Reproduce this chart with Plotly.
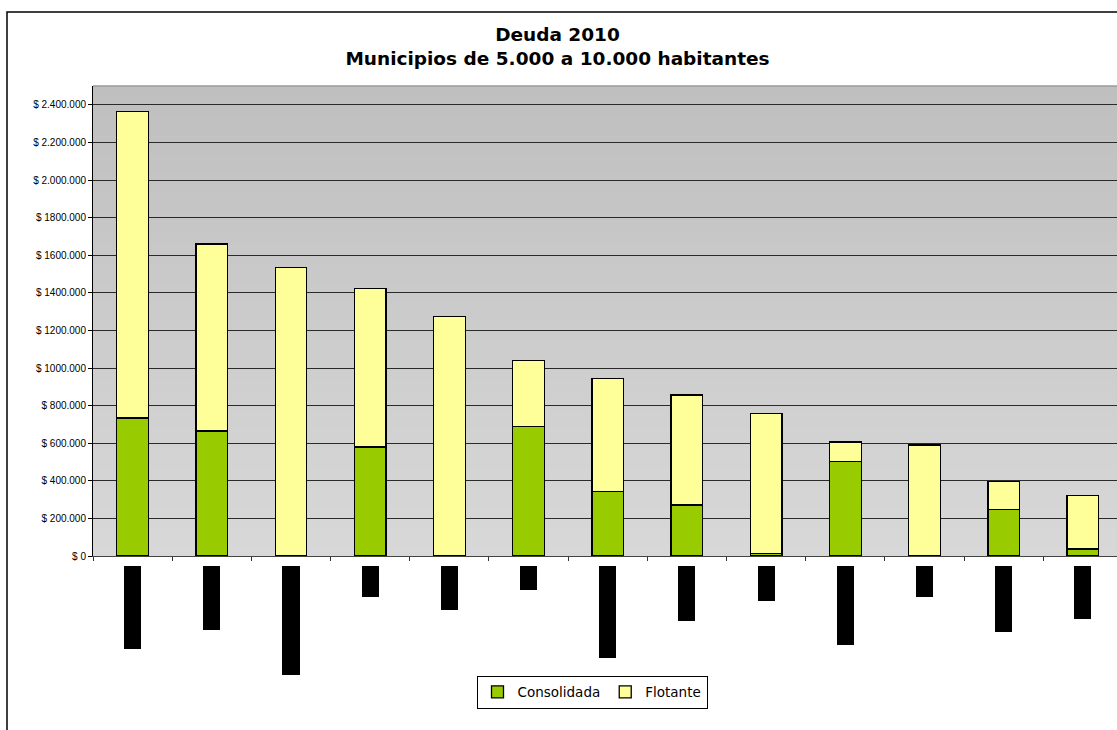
import plotly.graph_objects as go

# Municipios (nombres ocultos en el gráfico)
municipios = [f"Municipio {i}" for i in range(1, 14)]

# Deuda 2010 por tipo, en pesos (None = sin deuda consolidada)
consolidada = [734000, 665000, None, 580000, None, 689000, 343000, 272000, 12000, 504000, None, 247000, 37000]
flotante = [1632000, 994000, 1534000, 844000, 1275000, 351000, 602000, 584000, 746000, 103000, 590000, 151000, 285000]

# Largo de cada nombre tachado bajo el eje
largo_tachado = [83, 64, 109, 31, 44, 24, 92, 55, 35, 79, 31, 66, 53]

tick_vals = [0, 200000, 400000, 600000, 800000, 1000000, 1200000, 1400000,
             1600000, 1800000, 2000000, 2200000, 2400000]
tick_text = ["$ 0", "$ 200.000", "$ 400.000", "$ 600.000", "$ 800.000", "$ 1000.000",
             "$ 1200.000", "$ 1400.000", "$ 1600.000", "$ 1800.000", "$ 2.000.000",
             "$ 2.200.000", "$ 2.400.000"]

W, H = 1117, 730
M_L, M_R, M_T, M_B = 93, 0, 86, 40
plot_h = H - M_T - M_B


def py(pixel_y):
    """Pixel row -> paper y coordinate."""
    return (H - M_B - pixel_y) / plot_h


def px(pixel_x):
    return (pixel_x - M_L) / (W - M_L - M_R)


main_bottom = 556
y_dom = [py(main_bottom), 1.0]
y2_dom = [py(566 + 120), py(566)]

fig = go.Figure()
fig.add_trace(go.Bar(
    x=municipios, y=consolidada, name="Consolidada", width=0.4,
    marker=dict(color="#99cc00", line=dict(color="#000000", width=1.3)),
    xaxis="x", yaxis="y",
))
fig.add_trace(go.Bar(
    x=municipios, y=flotante, name="Flotante", width=0.4,
    marker=dict(color="#ffff99", line=dict(color="#000000", width=1.3)),
    xaxis="x", yaxis="y",
))
fig.add_trace(go.Bar(
    x=municipios, y=[-v for v in largo_tachado], width=0.215,
    marker=dict(color="#000000", line=dict(width=0)),
    showlegend=False, hoverinfo="skip",
    xaxis="x", yaxis="y2",
))

# Fondo degradado del área de trazado (franjas solapadas para evitar costuras)
shapes = []
n = 48
y0p, y1p = y_dom
step = (y1p - y0p) / n
for i in range(n):
    t = i / (n - 1)
    c = int(round(216 - (216 - 191) * t))
    shapes.append(dict(
        type="rect", xref="paper", yref="paper", layer="below",
        x0=0, x1=1, y0=y0p + step * i, y1=min(y1p, y0p + step * (i + 1) + step * 0.6),
        fillcolor=f"rgb({c},{c},{c})", line=dict(width=0),
    ))
# Borde superior del área de trazado
shapes.append(dict(type="line", xref="paper", yref="paper", x0=0, x1=1, y0=1, y1=1,
                   line=dict(color="#9a9a9a", width=1.5)))
# Marco del gráfico
shapes.append(dict(type="rect", xref="paper", yref="paper",
                   x0=px(7), x1=px(1130), y0=py(760), y1=py(12),
                   line=dict(color="#000000", width=1.5), fillcolor="rgba(0,0,0,0)"))

fig.update_layout(
    width=W, height=H,
    margin=dict(l=M_L, r=M_R, t=M_T, b=M_B),
    paper_bgcolor="#ffffff",
    plot_bgcolor="rgba(0,0,0,0)",
    barmode="stack",
    shapes=shapes,
    title=dict(
        text="Deuda 2010<br>Municipios de 5.000 a 10.000 habitantes",
        xref="container", yref="container",
        x=557.5 / W, xanchor="center", y=1 - 41 / H, yanchor="middle",
        font=dict(family="DejaVu Sans", size=18.5, color="#000000", weight="bold"),
    ),
    xaxis=dict(
        range=[-0.5, 12.43], showticklabels=False, ticks="outside", ticklen=4,
        tickson="boundaries", tickcolor="#333333", showgrid=False, zeroline=False,
        showline=True, linecolor="#444444", linewidth=1, anchor="y",
    ),
    yaxis=dict(
        domain=y_dom, range=[0, 2500000], tickvals=tick_vals, ticktext=tick_text,
        ticks="outside", ticklen=4, tickcolor="#000000", showline=True,
        linecolor="#000000", linewidth=1, showgrid=True, gridcolor="#2a2a2a",
        gridwidth=1, zeroline=False,
        tickfont=dict(family="Liberation Sans", size=10, color="#000000"),
    ),
    yaxis2=dict(
        domain=y2_dom, range=[-120, 0], visible=False, anchor="x",
    ),
    legend=dict(
        orientation="h", x=px(592), xanchor="center", y=py(692), yanchor="middle",
        bgcolor="#ffffff", bordercolor="#000000", borderwidth=1,
        traceorder="normal", itemwidth=30,
        font=dict(family="DejaVu Sans", size=13.5, color="#000000"),
    ),
)

fig.write_html("out.html")
